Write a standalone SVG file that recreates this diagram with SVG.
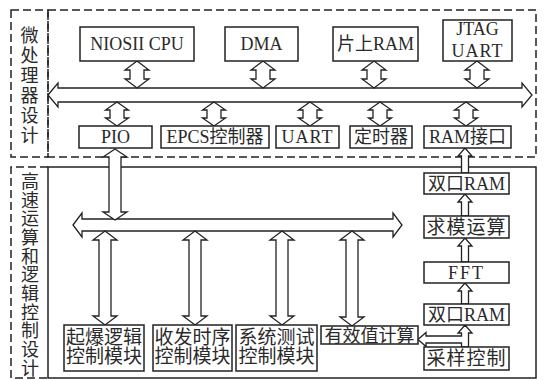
<svg xmlns="http://www.w3.org/2000/svg" width="544" height="380" viewBox="0 0 544 380">
<style>
.dash{fill:none;stroke:#222;stroke-width:1.5;stroke-dasharray:8 4}
.solid{fill:none;stroke:#222;stroke-width:1.5}
.box{fill:#fff;stroke:#222;stroke-width:1.5}
.arr{fill:#fff;stroke:#222;stroke-width:1.3;stroke-linejoin:miter}
text{font-family:"Liberation Serif","Noto Sans CJK SC",serif;font-size:18px;fill:#2a2a2a;text-anchor:middle}
.big{font-size:19px}
</style>
<rect width="544" height="380" fill="#fff"/>
<g id="panels">
<rect class="dash" x="11" y="10" width="37" height="147"/>
<rect class="dash" x="48" y="10" width="488" height="147"/>
<path class="dash" d="M48 167 H11 V378 H48"/>
<rect class="solid" x="48" y="167" width="488" height="211"/>
<text x="29.5" y="41.8"><tspan x="29.5">微</tspan><tspan x="29.5" dy="20">处</tspan><tspan x="29.5" dy="20">理</tspan><tspan x="29.5" dy="20">器</tspan><tspan x="29.5" dy="20">设</tspan><tspan x="29.5" dy="20">计</tspan></text>
<text x="30" y="187.8"><tspan x="30">高</tspan><tspan x="30" dy="18.7">速</tspan><tspan x="30" dy="18.7">运</tspan><tspan x="30" dy="18.7">算</tspan><tspan x="30" dy="18.7">和</tspan><tspan x="30" dy="18.7">逻</tspan><tspan x="30" dy="18.7">辑</tspan><tspan x="30" dy="18.7">控</tspan><tspan x="30" dy="18.7">制</tspan><tspan x="30" dy="18.7">设</tspan><tspan x="30" dy="18.7">计</tspan></text>
</g>
<g id="connectors">
<polygon class="arr" points="48,95 58,83 58,88 522,88 522,83 532,95 522,107 522,102 58,102 58,107"/>
<polygon class="arr" points="73,225 82,213 82,219 393,219 393,213 402,225 393,237 393,231 82,231 82,237"/>
<polygon class="arr" points="137,61 149,70 144,70 144,79 149,79 137,88 125,79 130,79 130,70 125,70"/>
<polygon class="arr" points="263,61 275,70 270,70 270,79 275,79 263,88 251,79 256,79 256,70 251,70"/>
<polygon class="arr" points="374,61 386,70 381,70 381,79 386,79 374,88 362,79 367,79 367,70 362,70"/>
<polygon class="arr" points="477,61 489,70 484,70 484,79 489,79 477,88 465,79 470,79 470,70 465,70"/>
<polygon class="arr" points="117,102 128.5,110 124,110 124,118 128.5,118 117,126 105.5,118 110,118 110,110 105.5,110"/>
<polygon class="arr" points="214,102 225.5,110 221,110 221,118 225.5,118 214,126 202.5,118 207,118 207,110 202.5,110"/>
<polygon class="arr" points="310,102 321.5,110 317,110 317,118 321.5,118 310,126 298.5,118 303,118 303,110 298.5,110"/>
<polygon class="arr" points="380,102 391.5,110 387,110 387,118 391.5,118 380,126 368.5,118 373,118 373,110 368.5,110"/>
<polygon class="arr" points="466,102 477.5,110 473,110 473,118 477.5,118 466,126 454.5,118 459,118 459,110 454.5,110"/>
<polygon class="arr" points="115,149 127,157 121,157 121,212 127,212 115,220 103,212 109,212 109,157 103,157"/>
<polygon class="arr" points="105,231 117,240 111,240 111,316 117,316 105,325 93,316 99,316 99,240 93,240"/>
<polygon class="arr" points="195,231 207,240 201,240 201,316 207,316 195,325 183,316 189,316 189,240 183,240"/>
<polygon class="arr" points="282,231 294,240 288,240 288,316 294,316 282,325 270,316 276,316 276,240 270,240"/>
<polygon class="arr" points="352,231 364,240 358,240 358,317 364,317 352,326 340,317 346,317 346,240 340,240"/>
<polygon class="arr" points="465,148 472,156 468.5,156 468.5,173 461.5,173 461.5,156 458,156"/>
<polygon class="arr" points="465,194 472,202 468.5,202 468.5,216 461.5,216 461.5,202 458,202"/>
<polygon class="arr" points="465,238 472,246 468.5,246 468.5,262 461.5,262 461.5,246 458,246"/>
<polygon class="arr" points="465,283 472,291 468.5,291 468.5,304 461.5,304 461.5,291 458,291"/>
<polygon class="arr" points="465,325 472,333 468.5,333 468.5,347 461.5,347 461.5,343 426,343 426,346.5 418,339.5 426,332.5 426,336 461.5,336 461.5,333 458,333"/>
</g>
<g id="n-cpu"><rect class="box" x="80" y="27" width="114" height="34"/><text x="137" y="50">NIOSII CPU</text></g>
<g id="n-dma"><rect class="box" x="225" y="27" width="73" height="34"/><text x="261.5" y="50">DMA</text></g>
<g id="n-onchipram"><rect class="box" x="333" y="27" width="85" height="34"/><text x="375.5" y="50">片上RAM</text></g>
<g id="n-jtag"><rect class="box" x="443" y="20" width="69" height="41"/><text x="477.5" y="35">JTAG</text><text x="477.5" y="57" letter-spacing="1">UART</text></g>
<g id="n-pio"><rect class="box" x="79" y="126" width="73" height="22"/><text x="115.5" y="143">PIO</text></g>
<g id="n-epcs"><rect class="box" x="161" y="126" width="108" height="22"/><text x="215" y="143">EPCS控制器</text></g>
<g id="n-uart"><rect class="box" x="276" y="126" width="63" height="22"/><text x="307.5" y="143" letter-spacing="1">UART</text></g>
<g id="n-timer"><rect class="box" x="350" y="126" width="62" height="22"/><text x="381" y="143">定时器</text></g>
<g id="n-ramif"><rect class="box" x="424" y="126" width="87" height="22"/><text x="467.5" y="143">RAM接口</text></g>
<g id="n-dpram1"><rect class="box" x="424" y="173" width="85" height="21"/><text x="466.5" y="190">双口RAM</text></g>
<g id="n-mod"><rect class="box" x="424" y="216" width="85" height="22"/><text class="big" x="466.5" y="233.5" letter-spacing="1">求模运算</text></g>
<g id="n-fft"><rect class="box" x="424" y="262" width="85" height="21"/><text x="466.5" y="279" letter-spacing="2">FFT</text></g>
<g id="n-dpram2"><rect class="box" x="424" y="304" width="85" height="21"/><text x="466.5" y="321">双口RAM</text></g>
<g id="n-sample"><rect class="box" x="424" y="347" width="85" height="23"/><text class="big" x="466.5" y="365" letter-spacing="1">采样控制</text></g>
<g id="n-rms"><rect class="box" x="321" y="326" width="97" height="18"/><text x="369.5" y="341.5">有效值计算</text></g>
<g id="n-detonate"><rect class="box" x="64" y="325" width="80" height="46"/><text class="big" x="104" y="343.5">起爆逻辑</text><text class="big" x="104" y="362.5">控制模块</text></g>
<g id="n-timing"><rect class="box" x="153" y="325" width="79" height="46"/><text class="big" x="192.5" y="343.5">收发时序</text><text class="big" x="192.5" y="362.5">控制模块</text></g>
<g id="n-test"><rect class="box" x="236" y="325" width="81" height="46"/><text class="big" x="276.5" y="343.5">系统测试</text><text class="big" x="276.5" y="362.5">控制模块</text></g>
</svg>
